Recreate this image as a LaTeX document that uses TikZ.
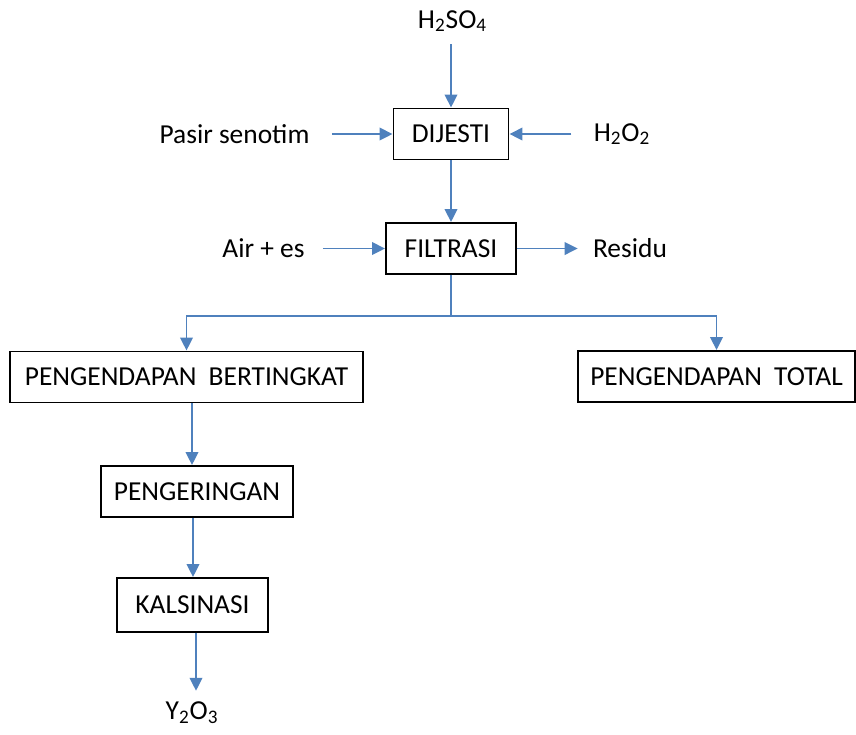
\documentclass[tikz,border=0pt]{standalone}
\usepackage{fontspec}
\setmainfont{Carlito}
\usetikzlibrary{arrows.meta,positioning}

\definecolor{flowblue}{RGB}{79,129,189}

\begin{document}
\begin{tikzpicture}[
  >={Triangle[length=0.26cm,width=0.25cm]},
  every node/.style={font=\fontsize{15.6}{18}\selectfont},
  stage/.style={draw, line width=1.1pt, minimum height=1.02cm, inner sep=0pt},
  feed/.style={inner sep=0.1cm},
  flow/.style={->, draw=flowblue, line width=1.1pt}
]
  \useasboundingbox (0,0) rectangle (17.12,-14.68);

  % process boxes
  \node[stage, minimum width=2.3cm]  (dijesti)     at (9.02,-2.68)  {DIJESTI};
  \node[stage, minimum width=2.6cm]  (filtrasi)    at (9.02,-4.97)  {FILTRASI};
  \node[stage, minimum width=7.06cm] (bertingkat)  at (3.73,-7.54)  {PENGENDAPAN\hspace{0.12cm} BERTINGKAT};
  \node[stage, minimum width=5.54cm] (total)       at (14.33,-7.53) {PENGENDAPAN\hspace{0.12cm} TOTAL};
  \node[stage, minimum width=3.84cm] (pengeringan) at (3.94,-9.83)  {PENGERINGAN};
  \node[stage, minimum width=3.02cm, minimum height=1.08cm] (kalsinasi) at (3.85,-12.1) {KALSINASI};

  % inputs and outputs
  \node[feed] (asam)   at (9.05,-0.42)  {H\textsubscript{2}SO\textsubscript{4}};
  \node[feed] (pasir)  at (4.69,-2.68)  {Pasir senotim};
  \node[feed] (hidro)  at (12.44,-2.68) {H\textsubscript{2}O\textsubscript{2}};
  \node[feed] (air)    at (5.27,-4.97)  {Air + es};
  \node[feed] (residu) at (12.6,-4.97)  {Residu};
  \node[feed] (oksida) at (3.84,-14.26) {Y\textsubscript{2}O\textsubscript{3}};

  \draw[flow, shorten <=0.14cm] (asam.south -| dijesti.north) -- (dijesti.north);
  \draw[flow, shorten <=0.34cm] (pasir.east |- dijesti) -- (dijesti.west);
  \draw[flow, shorten <=0.34cm] (hidro.west |- dijesti) -- (dijesti.east);
  \draw[flow] (dijesti.south) -- (filtrasi.north);
  \draw[flow, shorten <=0.26cm] (air.east |- filtrasi) -- (filtrasi.west);
  \draw[flow, shorten >=0.2cm] (filtrasi.east) -- (residu.west |- filtrasi);

  \draw[draw=flowblue, line width=1.1pt] (filtrasi.south) -- ++(0,-0.82) coordinate (cabang);
  \draw[flow] (cabang) -| (bertingkat.north);
  \draw[flow] (cabang) -| (total.north);

  \draw[flow] (bertingkat.south -| 3.84,0) -- (pengeringan.north -| 3.84,0);
  \draw[flow] (pengeringan.south -| 3.86,0) -- (kalsinasi.north -| 3.86,0);
  \draw[flow, shorten >=0.12cm] (kalsinasi.south -| 3.92,0) -- (oksida.north -| 3.92,0);
\end{tikzpicture}
\end{document}
